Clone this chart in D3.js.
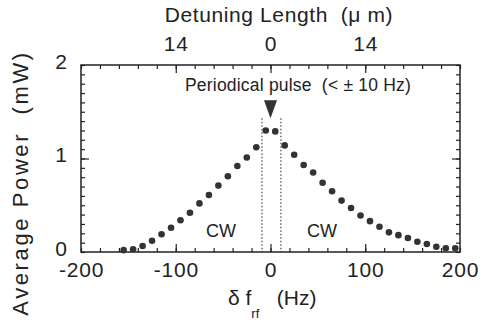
<!DOCTYPE html>
<html><head><meta charset="utf-8">
<script src="https://cdn.jsdelivr.net/npm/d3@7"></script>
<style>body{margin:0;background:#fff}svg{display:block}text{font-family:"Liberation Sans",Arial,Helvetica,sans-serif;fill:#222}</style>
</head><body><svg id="c" width="491" height="325"></svg>
<script>
const freqs = [-155,-145,-135,-125,-115,-105,-95,-85,-75,-65,-55,-45,-35,-25,-15,-5,5,15,25,35,45,55,65,75,85,95,105,115,125,135,145,155,165,175,185,195];
const power = [0.02,0.03,0.064,0.12,0.19,0.26,0.34,0.42,0.52,0.61,0.71,0.81,0.92,1.01,1.12,1.30,1.29,1.14,1.04,0.93,0.85,0.74,0.65,0.55,0.47,0.39,0.33,0.27,0.21,0.18,0.15,0.11,0.085,0.056,0.04,0.04];
const xTicks = [-200,-100,0,100,200];
const yTicks = [0,1,2];
const topTickPos = [-100,0,100];
const topTickLabels = ["14","0","14"];
const pulseLines = [-9,11];

const svg = d3.select("#c");
const L=81,R=460,T=65,B=252;
const x = d3.scaleLinear().domain([-200,200]).range([L,R]);
const y = d3.scaleLinear().domain([0,2]).range([B,T]);
const col="#222";
const xMinor = d3.range(-200,201,20);
const yMinor = d3.range(0,21).map(i=>i/10);

function ticksOnly(g){ g.select(".domain").remove(); g.selectAll(".tick text").remove(); g.selectAll(".tick line").attr("stroke",col).attr("stroke-width",1.2); }
function labelsOnly(g){ g.select(".domain").remove(); g.selectAll(".tick line").remove(); g.selectAll(".tick text").attr("fill",col).attr("font-size",21); }

// minor & major ticks (inward) on all four sides
[[d3.axisBottom, B, "x"], [d3.axisTop, T, "x"]].forEach(([ax, pos])=>{
  svg.append("g").attr("transform",`translate(0,${pos})`).call(ax(x).tickValues(xMinor).tickSizeInner(-4).tickSizeOuter(0)).call(ticksOnly);
  svg.append("g").attr("transform",`translate(0,${pos})`).call(ax(x).tickValues([-100,0,100]).tickSizeInner(-8).tickSizeOuter(0)).call(ticksOnly);
});
[[d3.axisLeft, L], [d3.axisRight, R]].forEach(([ax, pos])=>{
  svg.append("g").attr("transform",`translate(${pos},0)`).call(ax(y).tickValues(yMinor).tickSizeInner(-4).tickSizeOuter(0)).call(ticksOnly);
  svg.append("g").attr("transform",`translate(${pos},0)`).call(ax(y).tickValues([1]).tickSizeInner(-8).tickSizeOuter(0)).call(ticksOnly);
});

// frame
svg.append("rect").attr("x",x(-200)).attr("y",y(2)).attr("width",x(200)-x(-200)).attr("height",y(0)-y(2))
  .attr("fill","none").attr("stroke",col).attr("stroke-width",1.5);

// tick labels
svg.append("g").attr("transform",`translate(0,${B})`)
  .call(d3.axisBottom(x).tickValues(xTicks).tickSize(0).tickPadding(12).tickFormat(d=>String(d)))
  .call(labelsOnly).call(g=>g.selectAll("text").attr("letter-spacing",0.8).attr("dy","0.6em"));
svg.append("g").attr("transform",`translate(0,${T})`)
  .call(d3.axisTop(x).tickValues(topTickPos).tickSize(0).tickPadding(14).tickFormat((d,i)=>topTickLabels[i]))
  .call(labelsOnly).call(g=>g.selectAll("text").attr("letter-spacing",0.8));
svg.append("g").attr("transform",`translate(${L},0)`)
  .call(d3.axisLeft(y).tickValues(yTicks).tickSize(0).tickPadding(14).tickFormat(d3.format("d")))
  .call(labelsOnly).call(g=>g.selectAll("text").attr("dy","0.15em"));

// dotted pulse lines
svg.selectAll("line.pl").data(pulseLines).join("line").attr("class","pl")
  .attr("x1",d=>x(d)).attr("x2",d=>x(d)).attr("y1",y(1.43)).attr("y2",B)
  .attr("stroke",col).attr("stroke-width",1).attr("stroke-dasharray","1.5,2");

// points
svg.selectAll("circle.pt").data(freqs).join("circle").attr("class","pt")
  .attr("cx",d=>x(d)).attr("cy",(d,i)=>y(power[i])).attr("r",3.3).attr("fill","#333");

// triangle marker
const tx=x(0), ty=y(1.43);
svg.append("path").attr("d",`M${tx-6.5},${ty-18}L${tx+6.5},${ty-18}L${tx},${ty}Z`).attr("fill","#333");

// texts
svg.append("text").attr("x",298).attr("y",91).attr("text-anchor","middle").attr("font-size",17.5).attr("letter-spacing",0.2).style("white-space","pre").text("Periodical pulse  (< ± 10 Hz)");
svg.append("text").attr("x",221).attr("y",237).attr("text-anchor","middle").attr("font-size",18).text("CW");
svg.append("text").attr("x",322).attr("y",237).attr("text-anchor","middle").attr("font-size",18).text("CW");
svg.append("text").attr("x",279).attr("y",22).attr("text-anchor","middle").attr("font-size",21).attr("letter-spacing",0.6).style("white-space","pre").text("Detuning Length  (μ m)");
svg.append("text").attr("transform","translate(28,183) rotate(-90)").attr("text-anchor","middle").attr("font-size",22).attr("letter-spacing",2.6).style("white-space","pre").text("Average Power  (mW)");
const xl = svg.append("text").attr("x",228).attr("y",305).attr("font-size",21).style("white-space","pre");
xl.append("tspan").text("δ f");
xl.append("tspan").attr("dy",13).attr("font-size",13).text("rf");
xl.append("tspan").attr("dy",-13).text("   (Hz)");
</script></body></html>
